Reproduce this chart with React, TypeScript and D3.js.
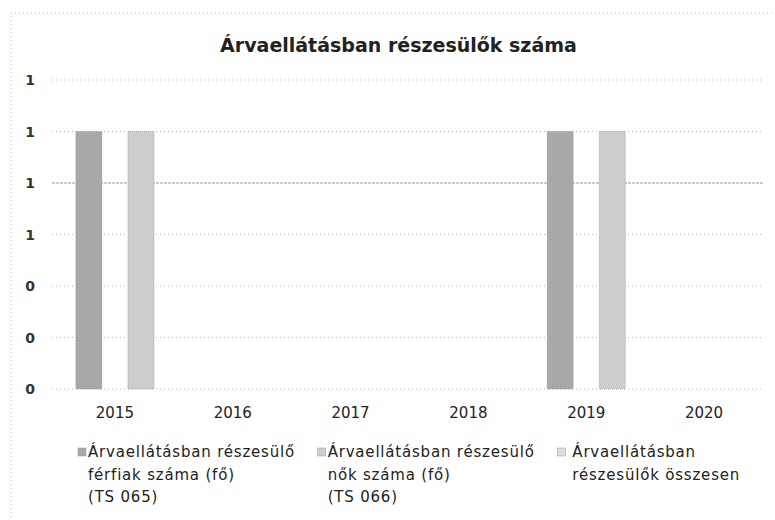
import React from "react"
import { scaleBand, scaleLinear, format } from "d3"

// values
const years = ["2015", "2016", "2017", "2018", "2019", "2020"]
const maleValues = [1, 0, 0, 0, 1, 0]
const femaleValues = [1, 0, 0, 0, 1, 0]
const yTicks = [0, 0.2, 0.4, 0.6, 0.8, 1, 1.2]

const title = "Árvaellátásban részesülők száma"
const legendLines = [
  ["Árvaellátásban részesülő", "férfiak száma (fő)", "(TS 065)"],
  ["Árvaellátásban részesülő", "nők száma (fő)", "(TS 066)"],
  ["Árvaellátásban", "részesülők összesen"],
]
const legendColors = ["#a8a8a8", "#cdcdcd", "#dedede"]

const W = 775
const H = 520
const FONT = "'DejaVu Sans', sans-serif"

export default function App() {
  const plot = { left: 56, right: 763, top: 80, bottom: 389 }

  const x = scaleBand().domain(years).range([plot.left, plot.right])
  const series = [
    { key: "male", values: maleValues, color: legendColors[0] },
    { key: "female", values: femaleValues, color: legendColors[1] },
  ]
  const x1 = scaleBand()
    .domain(series.map(s => s.key))
    .range([0, x.bandwidth()])
    .paddingInner(0.5)
    .paddingOuter(0.38)
  const y = scaleLinear().domain([0, 1.2]).range([plot.bottom, plot.top])
  const fmt = format(".0f")

  const legendX = scaleBand().domain(["0", "1", "2"]).range([78, 797])

  return (
    <svg
      width={W}
      height={H}
      style={{ position: "absolute", left: 0, top: 0, background: "#fff" }}
      fontFamily={FONT}
    >
      {/* chart border, faint dotted */}
      <rect x={11} y={13} width={770} height={520} fill="none" stroke="#bdbdbd" strokeDasharray="1 3" />

      <text x={W / 2 + 11} y={52} textAnchor="middle" fontSize={19} fontWeight="bold" fill="#222">
        {title}
      </text>

      {yTicks.map(t => (
        <g key={t}>
          <line
            x1={plot.left - 4}
            x2={plot.right}
            y1={y(t)}
            y2={y(t)}
            stroke={t === 0.8 ? "#9a9a9a" : "#b5b5b5"}
            strokeDasharray={t === 0.8 ? "3 1" : "1 3"}
          />
          <text x={30} y={y(t) + 5} textAnchor="middle" fontSize={14} fontWeight="bold" fill="#333">
            {fmt(t)}
          </text>
        </g>
      ))}

      {series.map(s =>
        s.values.map((v, i) =>
          v > 0 ? (
            <rect
              key={s.key + years[i]}
              x={x(years[i])! + x1(s.key)!}
              y={y(v)}
              width={x1.bandwidth()}
              height={y(0) - y(v)}
              fill={s.color}
              stroke="#8a8a8a"
              strokeWidth={0.6}
              strokeDasharray="1 1"
            />
          ) : null
        )
      )}

      {years.map(yr => (
        <text
          key={yr}
          x={x(yr)! + x.bandwidth() / 2}
          y={418}
          textAnchor="middle"
          fontSize={15}
          fill="#222"
        >
          {yr}
        </text>
      ))}

      {legendLines.map((lines, i) => {
        const lx = legendX(String(i))!
        const indent = i === 2 ? 15 : 10
        return (
          <g key={i}>
            <rect x={lx} y={448} width={8} height={8} fill={legendColors[i]} stroke="#999" strokeWidth={0.5} />
            {lines.map((ln, j) => (
              <text
                key={j}
                x={lx + indent}
                y={457 + j * 22.5}
                fontSize={15}
                letterSpacing={0.8}
                fill="#222"
              >
                {ln}
              </text>
            ))}
          </g>
        )
      })}
    </svg>
  )
}
